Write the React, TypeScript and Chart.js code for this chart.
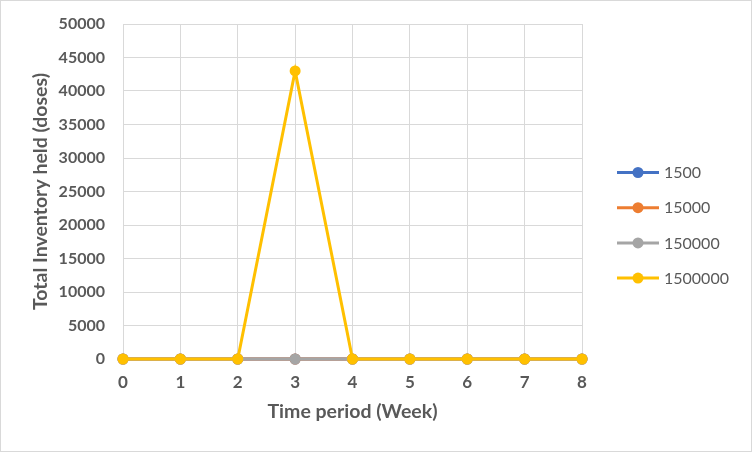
import React, { useEffect, useRef } from "react";
import { Chart, registerables } from "chart.js";

Chart.register(...registerables);

const weeks = [0, 1, 2, 3, 4, 5, 6, 7, 8];
const seriesLabels = ["1500", "15000", "150000", "1500000"];
const seriesColors = ["#4472C4", "#ED7D31", "#A5A5A5", "#FFC000"];
const s1500 = [0, 0, 0, 0, 0, 0, 0, 0, 0];
const s15000 = [0, 0, 0, 0, 0, 0, 0, 0, 0];
const s150000 = [0, 0, 0, 0, 0, 0, 0, 0, 0];
const s1500000 = [0, 0, 0, 43000, 0, 0, 0, 0, 0];
const seriesValues = [s1500, s15000, s150000, s1500000];

const FONT = 'Lato, "Open Sans", sans-serif';
const TEXT = "#595959";
const GRID = "#D9D9D9";

const bgPlugin = {
  id: "bgBorder",
  beforeDraw(chart: any) {
    const { ctx, width, height } = chart;
    ctx.save();
    ctx.fillStyle = "#FFFFFF";
    ctx.fillRect(0, 0, width, height);
    ctx.strokeStyle = GRID;
    ctx.lineWidth = 1;
    ctx.strokeRect(0.5, 0.5, width - 1, height - 1);
    ctx.restore();
  },
};

const legendPlugin = {
  id: "customLegend",
  afterDraw(chart: any) {
    const { ctx } = chart;
    const ds = chart.data.datasets;
    const x0 = 617;
    const x1 = 659;
    const startY = 172.5;
    const gap = 35.2;
    ctx.save();
    ds.forEach((d: any, i: number) => {
      const y = startY + i * gap;
      ctx.strokeStyle = d.borderColor;
      ctx.lineWidth = 3;
      ctx.beginPath();
      ctx.moveTo(x0, y);
      ctx.lineTo(x1, y);
      ctx.stroke();
      ctx.fillStyle = d.borderColor;
      ctx.beginPath();
      ctx.arc((x0 + x1) / 2, y, 5.5, 0, Math.PI * 2);
      ctx.fill();
      ctx.fillStyle = TEXT;
      ctx.font = `16px ${FONT}`;
      ctx.textAlign = "left";
      ctx.textBaseline = "middle";
      ctx.fillText(d.label, 664, y + 0.5);
    });
    ctx.restore();
  },
};

export default function App() {
  const ref = useRef<HTMLCanvasElement | null>(null);

  useEffect(() => {
    if (!ref.current) return;
    const datasets = seriesLabels.map((label, i) => ({
      label,
      data: weeks.map((w, j) => ({ x: w, y: seriesValues[i][j] })),
      borderColor: seriesColors[i],
      backgroundColor: seriesColors[i],
      pointBackgroundColor: seriesColors[i],
      pointBorderColor: seriesColors[i],
      borderWidth: 3,
      pointRadius: 5.5,
      pointBorderWidth: 0,
      tension: 0,
      clip: false as any,
      order: seriesLabels.length - 1 - i,
    }));
    const chart = new Chart(ref.current, {
      type: "line",
      data: { datasets },
      options: {
        animation: false,
        responsive: false,
        maintainAspectRatio: false,
        layout: { padding: { top: 24, right: 170, bottom: 0, left: 0 } },
        plugins: {
          legend: { display: false },
          tooltip: { enabled: false },
        },
        scales: {
          x: {
            type: "linear",
            min: 0,
            max: 8,
            afterFit(scale: any) {
              scale.height = 93;
              scale.paddingLeft = 0;
              scale.paddingRight = 0;
            },
            ticks: {
              stepSize: 1,
              color: TEXT,
              font: { family: FONT, size: 17, weight: "bold" },
              padding: 13,
              callback: (v: any) => String(v),
            },
            grid: { color: GRID, lineWidth: 1, drawTicks: false },
            border: { color: GRID, width: 1 },
            title: {
              display: true,
              text: "Time period (Week)",
              color: TEXT,
              font: { family: FONT, size: 19.5, weight: "bold" },
              padding: { top: 0, bottom: 28.5 },
            },
          },
          y: {
            min: 0,
            max: 50000,
            afterFit(scale: any) {
              scale.width = 123;
              scale.paddingTop = 0;
              scale.paddingBottom = 0;
            },
            ticks: {
              stepSize: 5000,
              color: TEXT,
              font: { family: FONT, size: 16, weight: "bold" },
              padding: 18,
              callback: (v: any) => String(v),
            },
            grid: { color: GRID, lineWidth: 1, drawTicks: false },
            border: { color: GRID, width: 1 },
            title: {
              display: true,
              text: "Total Inventory held (doses)",
              color: TEXT,
              font: { family: FONT, size: 19.5, weight: "bold" },
              padding: { top: 29.3, bottom: 0 },
            },
          },
        },
      },
      plugins: [bgPlugin, legendPlugin],
    });
    return () => chart.destroy();
  }, []);

  return (
    <div style={{ position: "absolute", left: 0, top: 0, width: 752, height: 452 }}>
      <canvas ref={ref} width={752} height={452} style={{ width: 752, height: 452, display: "block" }} />
    </div>
  );
}
